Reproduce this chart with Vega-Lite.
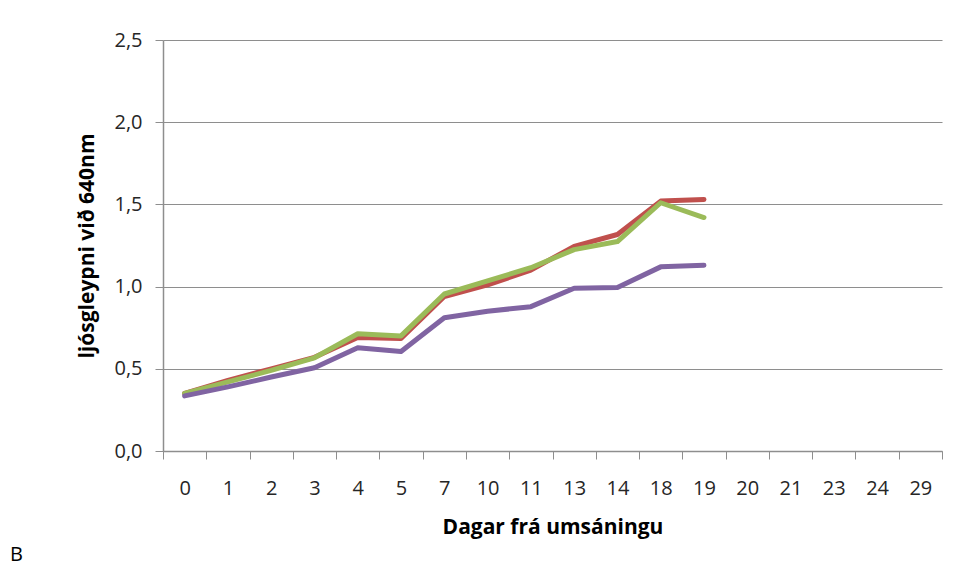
{
  "$schema": "https://vega.github.io/schema/vega-lite/v6.json",
  "width": 779,
  "height": 411,
  "autosize": {"type": "none"},
  "padding": {"left": 163, "top": 40, "right": 16, "bottom": 118},
  "background": "white",
  "title": {"text": "B", "orient": "bottom", "anchor": "start", "frame": "group", "dx": -153, "offset": 8, "fontSize": 20, "fontWeight": "normal", "font": "Open Sans", "color": "#000000"},
  "data": {
    "values": [
      {"dag": "0", "serie": "A", "gildi": 0.35},
      {"dag": "1", "serie": "A", "gildi": 0.43},
      {"dag": "2", "serie": "A", "gildi": 0.50},
      {"dag": "3", "serie": "A", "gildi": 0.57},
      {"dag": "4", "serie": "A", "gildi": 0.69},
      {"dag": "5", "serie": "A", "gildi": 0.685},
      {"dag": "7", "serie": "A", "gildi": 0.94},
      {"dag": "10", "serie": "A", "gildi": 1.01},
      {"dag": "11", "serie": "A", "gildi": 1.10},
      {"dag": "13", "serie": "A", "gildi": 1.245},
      {"dag": "14", "serie": "A", "gildi": 1.317},
      {"dag": "18", "serie": "A", "gildi": 1.52},
      {"dag": "19", "serie": "A", "gildi": 1.53},
      {"dag": "0", "serie": "B", "gildi": 0.35},
      {"dag": "1", "serie": "B", "gildi": 0.42},
      {"dag": "2", "serie": "B", "gildi": 0.49},
      {"dag": "3", "serie": "B", "gildi": 0.567},
      {"dag": "4", "serie": "B", "gildi": 0.713},
      {"dag": "5", "serie": "B", "gildi": 0.70},
      {"dag": "7", "serie": "B", "gildi": 0.955},
      {"dag": "10", "serie": "B", "gildi": 1.035},
      {"dag": "11", "serie": "B", "gildi": 1.115},
      {"dag": "13", "serie": "B", "gildi": 1.225},
      {"dag": "14", "serie": "B", "gildi": 1.274},
      {"dag": "18", "serie": "B", "gildi": 1.51},
      {"dag": "19", "serie": "B", "gildi": 1.42},
      {"dag": "0", "serie": "C", "gildi": 0.335},
      {"dag": "1", "serie": "C", "gildi": 0.39},
      {"dag": "2", "serie": "C", "gildi": 0.45},
      {"dag": "3", "serie": "C", "gildi": 0.506},
      {"dag": "4", "serie": "C", "gildi": 0.628},
      {"dag": "5", "serie": "C", "gildi": 0.605},
      {"dag": "7", "serie": "C", "gildi": 0.81},
      {"dag": "10", "serie": "C", "gildi": 0.85},
      {"dag": "11", "serie": "C", "gildi": 0.878},
      {"dag": "13", "serie": "C", "gildi": 0.99},
      {"dag": "14", "serie": "C", "gildi": 0.994},
      {"dag": "18", "serie": "C", "gildi": 1.12},
      {"dag": "19", "serie": "C", "gildi": 1.13}
    ]
  },
  "mark": {"type": "line", "strokeWidth": 5, "strokeCap": "round", "strokeJoin": "round"},
  "encoding": {
    "x": {
      "field": "dag",
      "type": "ordinal",
      "bandPosition": 0.5,
      "scale": {"type": "band", "domain": ["0","1","2","3","4","5","7","10","11","13","14","18","19","20","21","23","24","29"], "paddingInner": 0, "paddingOuter": 0},
      "axis": {
        "title": "Dagar frá umsáningu",
        "titleFont": "Open Sans",
        "titleFontSize": 21,
        "titleFontWeight": "bold",
        "titleColor": "#000000",
        "titlePadding": 18,
        "labelFont": "Open Sans",
        "labelFontSize": 20,
        "labelColor": "#262626",
        "labelAngle": 0,
        "labelPadding": 19,
        "tickBand": "extent",
        "tickSize": 8,
        "tickColor": "#8e8e8e",
        "tickWidth": 1,
        "domainColor": "#8e8e8e",
        "domainWidth": 1.5,
        "grid": false
      }
    },
    "y": {
      "field": "gildi",
      "type": "quantitative",
      "scale": {"domain": [0, 2.5], "nice": false, "zero": true},
      "axis": {
        "title": "ljósgleypni við 640nm",
        "titleFont": "Open Sans",
        "titleFontSize": 21,
        "titleFontWeight": "bold",
        "titleColor": "#000000",
        "titlePadding": 16,
        "values": [0, 0.5, 1, 1.5, 2, 2.5],
        "labelExpr": "replace(format(datum.value, '.1f'), '.', ',')",
        "labelFont": "Open Sans",
        "labelFontSize": 20,
        "labelColor": "#262626",
        "labelPadding": 13,
        "tickSize": 8,
        "tickColor": "#8e8e8e",
        "domainColor": "#8e8e8e",
        "domainWidth": 1.5,
        "grid": true,
        "gridColor": "#8e8e8e",
        "gridWidth": 1.2
      }
    },
    "color": {
      "field": "serie",
      "type": "nominal",
      "scale": {"domain": ["A", "B", "C"], "range": ["#C0504D", "#9BBB59", "#8064A2"]},
      "legend": null
    }
  },
  "config": {"view": {"stroke": null}}
}
